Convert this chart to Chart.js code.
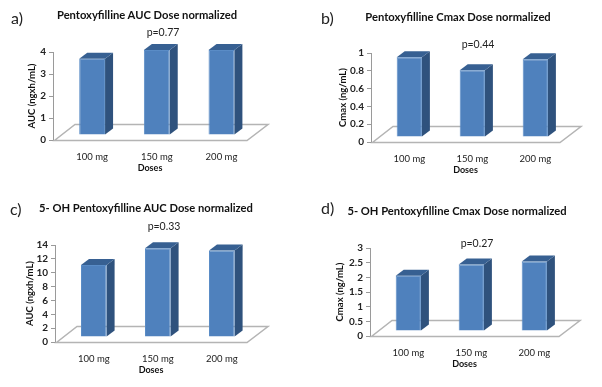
<!DOCTYPE html>
<html>
<head>
<meta charset="utf-8">
<script src="https://cdn.jsdelivr.net/npm/chart.js@4"></script>
<style>
  html, body { margin: 0; padding: 0; background: #fff; }
  body { position: relative; width: 602px; height: 387px; overflow: hidden; font-family: Lato, sans-serif; color: #111; filter: blur(0.35px); }
  canvas { position: absolute; }
  .label { position: absolute; white-space: nowrap; line-height: 1; transform: translate(-50%, -50%); }
  .title { font-weight: 700; font-size: 11.2px; }
  .pval { font-size: 10.5px; color: #222; }
  .letter { font-size: 16px; color: #222; transform: translate(0, -50%); }
</style>
</head>
<body>
<script>
const doses = ['100 mg', '150 mg', '200 mg'];

const aucPtx = [3.47, 3.86, 3.86];
const cmaxPtx = [0.895, 0.75, 0.875];
const aucOh = [10.4, 12.8, 12.5];
const cmaxOh = [1.88, 2.27, 2.37];

const FRONT = '#4f81bd';
const EDGE = '#5a8cc6';
const SIDE = '#2f527d';
const TOP = '#376092';
const FLOOR = '#b4b4b4';
const AXIS = '#9a9a9a';

const panels = [
  { letter: 'a)', letterAt: [11, 18], title: 'Pentoxyfilline AUC Dose normalized', titleAt: [147, 15],
    p: 'p=0.77', pAt: [163, 32], yTitle: 'AUC (ngxh/mL)', values: aucPtx, max: 4, step: 1,
    box: [0, 0], area: { left: 53, right: 247, top: 52, bottom: 140 }, titleX: 32 },
  { letter: 'b)', letterAt: [321, 18], title: 'Pentoxyfilline Cmax Dose normalized', titleAt: [458, 17],
    p: 'p=0.44', pAt: [478, 44], yTitle: 'Cmax (ng/mL)', values: cmaxPtx, max: 1, step: 0.2,
    box: [301, 0], area: { left: 70, right: 259, top: 53, bottom: 142 }, titleX: 42 },
  { letter: 'c)', letterAt: [10, 209], title: '5- OH Pentoxyfilline AUC Dose normalized', titleAt: [146, 208],
    p: 'p=0.33', pAt: [164, 226], yTitle: 'AUC (ngxh/mL)', values: aucOh, max: 14, step: 2,
    box: [0, 190], area: { left: 55, right: 247, top: 55, bottom: 152 }, titleX: 30 },
  { letter: 'd)', letterAt: [321, 208], title: '5- OH Pentoxyfilline Cmax Dose normalized', titleAt: [457, 211],
    p: 'p=0.27', pAt: [477, 243], yTitle: 'Cmax (ng/mL)', values: cmaxOh, max: 3, step: 0.5,
    box: [301, 190], area: { left: 69, right: 258, top: 58, bottom: 146 }, titleX: 39 }
];

// fake 3D look: bars sit a bit inside the floor, with a side and top face
const SHIFT_X = 6.8;
const SHIFT_Y = 5;
const DEPTH_X = 8;
const DEPTH_Y = 6;

const fakeDepth = {
  id: 'fakeDepth',
  beforeDatasetsDraw(chart) {
    const { ctx, chartArea: a } = chart;
    ctx.save();
    ctx.strokeStyle = FLOOR;
    ctx.lineWidth = 1.5;
    ctx.beginPath();
    ctx.moveTo(a.left + 1.5, a.bottom + 0.5);
    ctx.lineTo(a.right, a.bottom + 0.5);
    ctx.lineTo(a.right + 21, a.bottom - 15.5);
    ctx.lineTo(a.left + 22, a.bottom - 15.5);
    ctx.closePath();
    ctx.stroke();
    ctx.restore();
    ctx.save();
    ctx.translate(SHIFT_X, -SHIFT_Y);
    chart.getDatasetMeta(0).data.forEach(bar => {
      const x0 = bar.x - bar.width / 2;
      const x1 = bar.x + bar.width / 2;
      ctx.fillStyle = SIDE;
      ctx.beginPath();
      ctx.moveTo(x1, bar.y);
      ctx.lineTo(x1 + DEPTH_X, bar.y - DEPTH_Y);
      ctx.lineTo(x1 + DEPTH_X, bar.base - DEPTH_Y);
      ctx.lineTo(x1, bar.base);
      ctx.closePath();
      ctx.fill();
      ctx.fillStyle = TOP;
      ctx.beginPath();
      ctx.moveTo(x0, bar.y);
      ctx.lineTo(x0 + DEPTH_X, bar.y - DEPTH_Y);
      ctx.lineTo(x1 + DEPTH_X, bar.y - DEPTH_Y);
      ctx.lineTo(x1, bar.y);
      ctx.closePath();
      ctx.fill();
    });
  },
  afterDatasetsDraw(chart) {
    chart.ctx.restore();
  }
};

function addLabel(cls, text, at) {
  const el = document.createElement('div');
  el.className = 'label ' + cls;
  el.textContent = text;
  el.style.left = at[0] + 'px';
  el.style.top = at[1] + 'px';
  document.body.appendChild(el);
}

panels.forEach(panel => {
  const canvas = document.createElement('canvas');
  canvas.width = 301;
  canvas.height = 195;
  canvas.style.left = panel.box[0] + 'px';
  canvas.style.top = panel.box[1] + 'px';
  document.body.appendChild(canvas);

  const area = panel.area;
  new Chart(canvas, {
    type: 'bar',
    data: {
      labels: doses,
      datasets: [{
        data: panel.values,
        backgroundColor: FRONT,
        borderColor: EDGE,
        borderWidth: 1,
        barPercentage: 0.4,
        categoryPercentage: 1
      }]
    },
    plugins: [fakeDepth],
    options: {
      responsive: false,
      animation: false,
      layout: { padding: { left: 0, top: area.top, right: 301 - area.right, bottom: 0 } },
      plugins: { legend: { display: false }, tooltip: { enabled: false } },
      scales: {
        x: {
          afterFit: scale => { scale.height = 195 - area.bottom; },
          grid: { display: false },
          border: { display: false },
          ticks: { labelOffset: SHIFT_X, padding: 3, color: '#222', font: { family: 'Lato', size: 9.5 }, maxRotation: 0 },
          title: { display: true, text: 'Doses', color: '#111', font: { family: 'Lato', size: 9, weight: 'bold' }, padding: { top: 0, bottom: 195 - area.bottom - 33 } }
        },
        y: {
          min: 0,
          max: panel.max,
          afterFit: scale => { scale.width = area.left; },
          grid: { drawOnChartArea: false, color: AXIS, tickLength: 4 },
          border: { color: AXIS },
          ticks: { stepSize: panel.step, autoSkip: false, padding: 3, color: '#222', font: { family: 'Lato', size: 10, weight: 'bold' }, callback: v => String(v) },
          title: { display: true, text: panel.yTitle, color: '#111', font: { family: 'Lato', size: 9.5, weight: 'bold' }, padding: { top: panel.titleX - 6, bottom: 0 } }
        }
      }
    }
  });

  addLabel('title', panel.title, panel.titleAt);
  addLabel('pval', panel.p, panel.pAt);
  addLabel('letter', panel.letter, panel.letterAt);
});
</script>
</body>
</html>
